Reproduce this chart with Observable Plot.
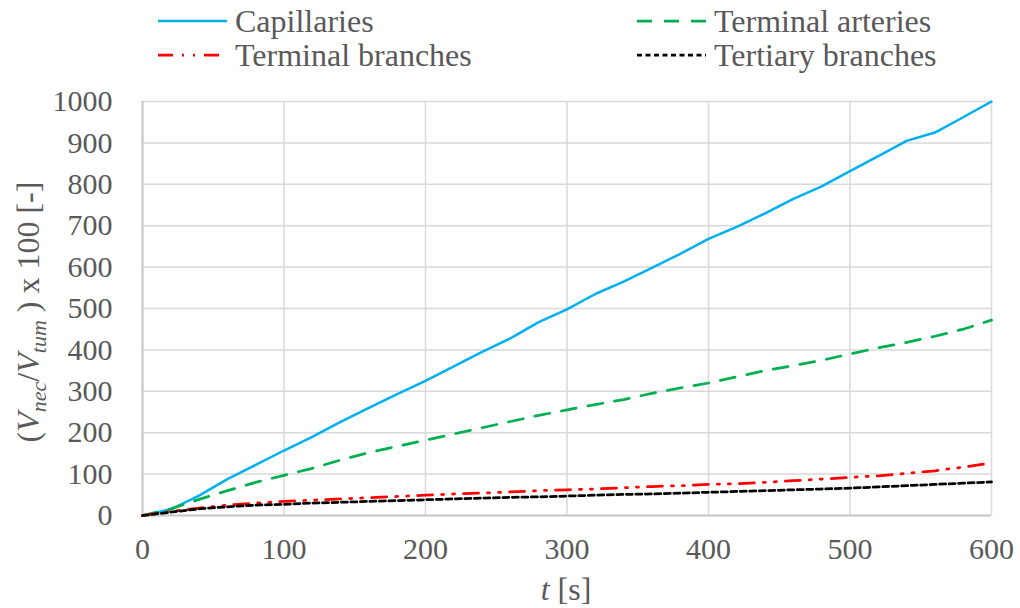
<!DOCTYPE html>
<html>
<head>
<meta charset="utf-8">
<script src="https://cdn.jsdelivr.net/npm/d3@7"></script>
<script src="https://cdn.jsdelivr.net/npm/@observablehq/plot@0.6"></script>
<style>
  html, body { margin: 0; padding: 0; background: #fff; }
  #wrap { width: 1020px; height: 608px; position: relative; font-family: "Liberation Serif", "Times New Roman", serif; }
  #wrap svg { display: block; }
</style>
</head>
<body>
<div id="wrap"></div>
<script>
// ---- Data ----
const times = [0,20,40,60,80,100,120,140,160,180,200,220,240,260,280,300,320,340,360,380,400,420,440,460,480,500,520,540,560,580,600];
const capillaries = [0,15,48,88,122,157,190,226,260,293,325,360,395,428,467,498,535,565,598,632,668,697,730,765,795,832,868,905,925,962,1000];
const terminalArteries = [0,16,39,60,80,97,114,134,152,167,182,197,212,227,242,255,268,280,295,308,320,335,350,362,375,390,405,418,433,450,472];
const terminalBranches = [0,10,18,25,30,34,37,40,43,46,49,52,54,57,60,62,64,67,70,72,75,77,80,84,88,92,96,102,108,117,127];
const tertiaryBranches = [0,8,16,21,25,27,30,32,34,36,38,40,42,44,45,47,49,51,52,54,56,58,60,62,64,66,69,72,75,78,81];
const xTicks = [0,100,200,300,400,500,600];
const yTicks = [0,100,200,300,400,500,600,700,800,900,1000];

const seriesNames = ["Capillaries", "Terminal arteries", "Terminal branches", "Tertiary branches"];
const seriesValues = [capillaries, terminalArteries, terminalBranches, tertiaryBranches];
const seriesStyle = [
  {stroke: "#00b0f0", dash: null, width: 2.5},
  {stroke: "#00b050", dash: "15,12", width: 2.75},
  {stroke: "#ff0000", dash: "15,9,2,9,2,9", width: 2.75},
  {stroke: "#000000", dash: "6,3.5", width: 2.75}
];

const rows = [];
seriesNames.forEach((name, i) => {
  times.forEach((t, j) => rows.push({series: name, t, v: seriesValues[i][j]}));
});

const FONT = '"Liberation Serif", "Times New Roman", serif';
const wrap = document.getElementById("wrap");

// ---- Legend (above the chart) ----
const legendH = 75;
const leg = d3.create("svg").attr("width", 1020).attr("height", legendH)
  .style("font-family", FONT);
const legPos = [
  {x: 158, y: 21}, {x: 637, y: 21}, {x: 158, y: 55}, {x: 637, y: 55}
];
seriesNames.forEach((name, i) => {
  const p = legPos[i];
  const st = seriesStyle[i];
  leg.append("line").attr("x1", p.x).attr("x2", p.x + 69).attr("y1", p.y).attr("y2", p.y)
    .attr("stroke", st.stroke).attr("stroke-width", st.width)
    .attr("stroke-dasharray", i === 3 ? "5,3.5" : st.dash);
  leg.append("text").attr("x", p.x + 77).attr("y", p.y).attr("dy", "0.33em")
    .attr("font-size", 32).attr("fill", "#595959").text(name);
});
wrap.appendChild(leg.node());

// ---- Chart ----
const chart = Plot.plot({
  width: 1020,
  height: 608 - legendH,
  marginLeft: 142,
  marginRight: 29,
  marginTop: 26,
  marginBottom: 93,
  style: {fontFamily: FONT, fontSize: "30px", color: "#595959", background: "#fff"},
  x: {domain: [0, 600], label: null},
  y: {domain: [0, 1000], label: null},
  marks: [
    Plot.gridX(xTicks, {stroke: "#d9d9d9", strokeOpacity: 1, strokeWidth: 1.5}),
    Plot.gridY(yTicks, {stroke: "#d9d9d9", strokeOpacity: 1, strokeWidth: 1.5}),
    Plot.ruleY([0], {stroke: "#c8c8c8", strokeWidth: 2}),
    Plot.ruleX([0], {stroke: "#c8c8c8", strokeWidth: 2}),
    Plot.axisX(xTicks, {tickSize: 0, tickPadding: 22, fontSize: 30, fill: "#595959", tickFormat: d => String(d), label: null}),
    Plot.axisY(yTicks, {tickSize: 0, tickPadding: 30, fontSize: 30, fill: "#595959", tickFormat: d => String(d), label: null}),
    ...seriesNames.map((name, i) => Plot.line(rows.filter(d => d.series === name), {
      x: "t", y: "v", stroke: seriesStyle[i].stroke, strokeWidth: seriesStyle[i].width,
      strokeDasharray: seriesStyle[i].dash, curve: "linear"
    }))
  ]
});
wrap.appendChild(chart);

// ---- Axis titles with italic/subscript parts ----
const svg = d3.select(chart);
const yl = svg.append("text")
  .attr("transform", "translate(39," + (312 - legendH) + ") rotate(-90)")
  .attr("text-anchor", "middle")
  .attr("font-size", 32).attr("fill", "#595959").style("font-family", FONT);
yl.append("tspan").text("(");
yl.append("tspan").attr("font-style", "italic").text("V");
yl.append("tspan").attr("font-style", "italic").attr("font-size", 22).attr("dy", 7).text("nec");
yl.append("tspan").attr("dy", -7).text("/");
yl.append("tspan").attr("font-style", "italic").text("V");
yl.append("tspan").attr("font-style", "italic").attr("font-size", 22).attr("dy", 7).text("tum");
yl.append("tspan").attr("dy", -7).text(" ) x 100 [-]");

const xl = svg.append("text")
  .attr("x", 566).attr("y", 600 - legendH)
  .attr("text-anchor", "middle")
  .attr("font-size", 32).attr("fill", "#595959").style("font-family", FONT);
xl.append("tspan").attr("font-style", "italic").text("t");
xl.append("tspan").text(" [s]");
</script>
</body>
</html>
